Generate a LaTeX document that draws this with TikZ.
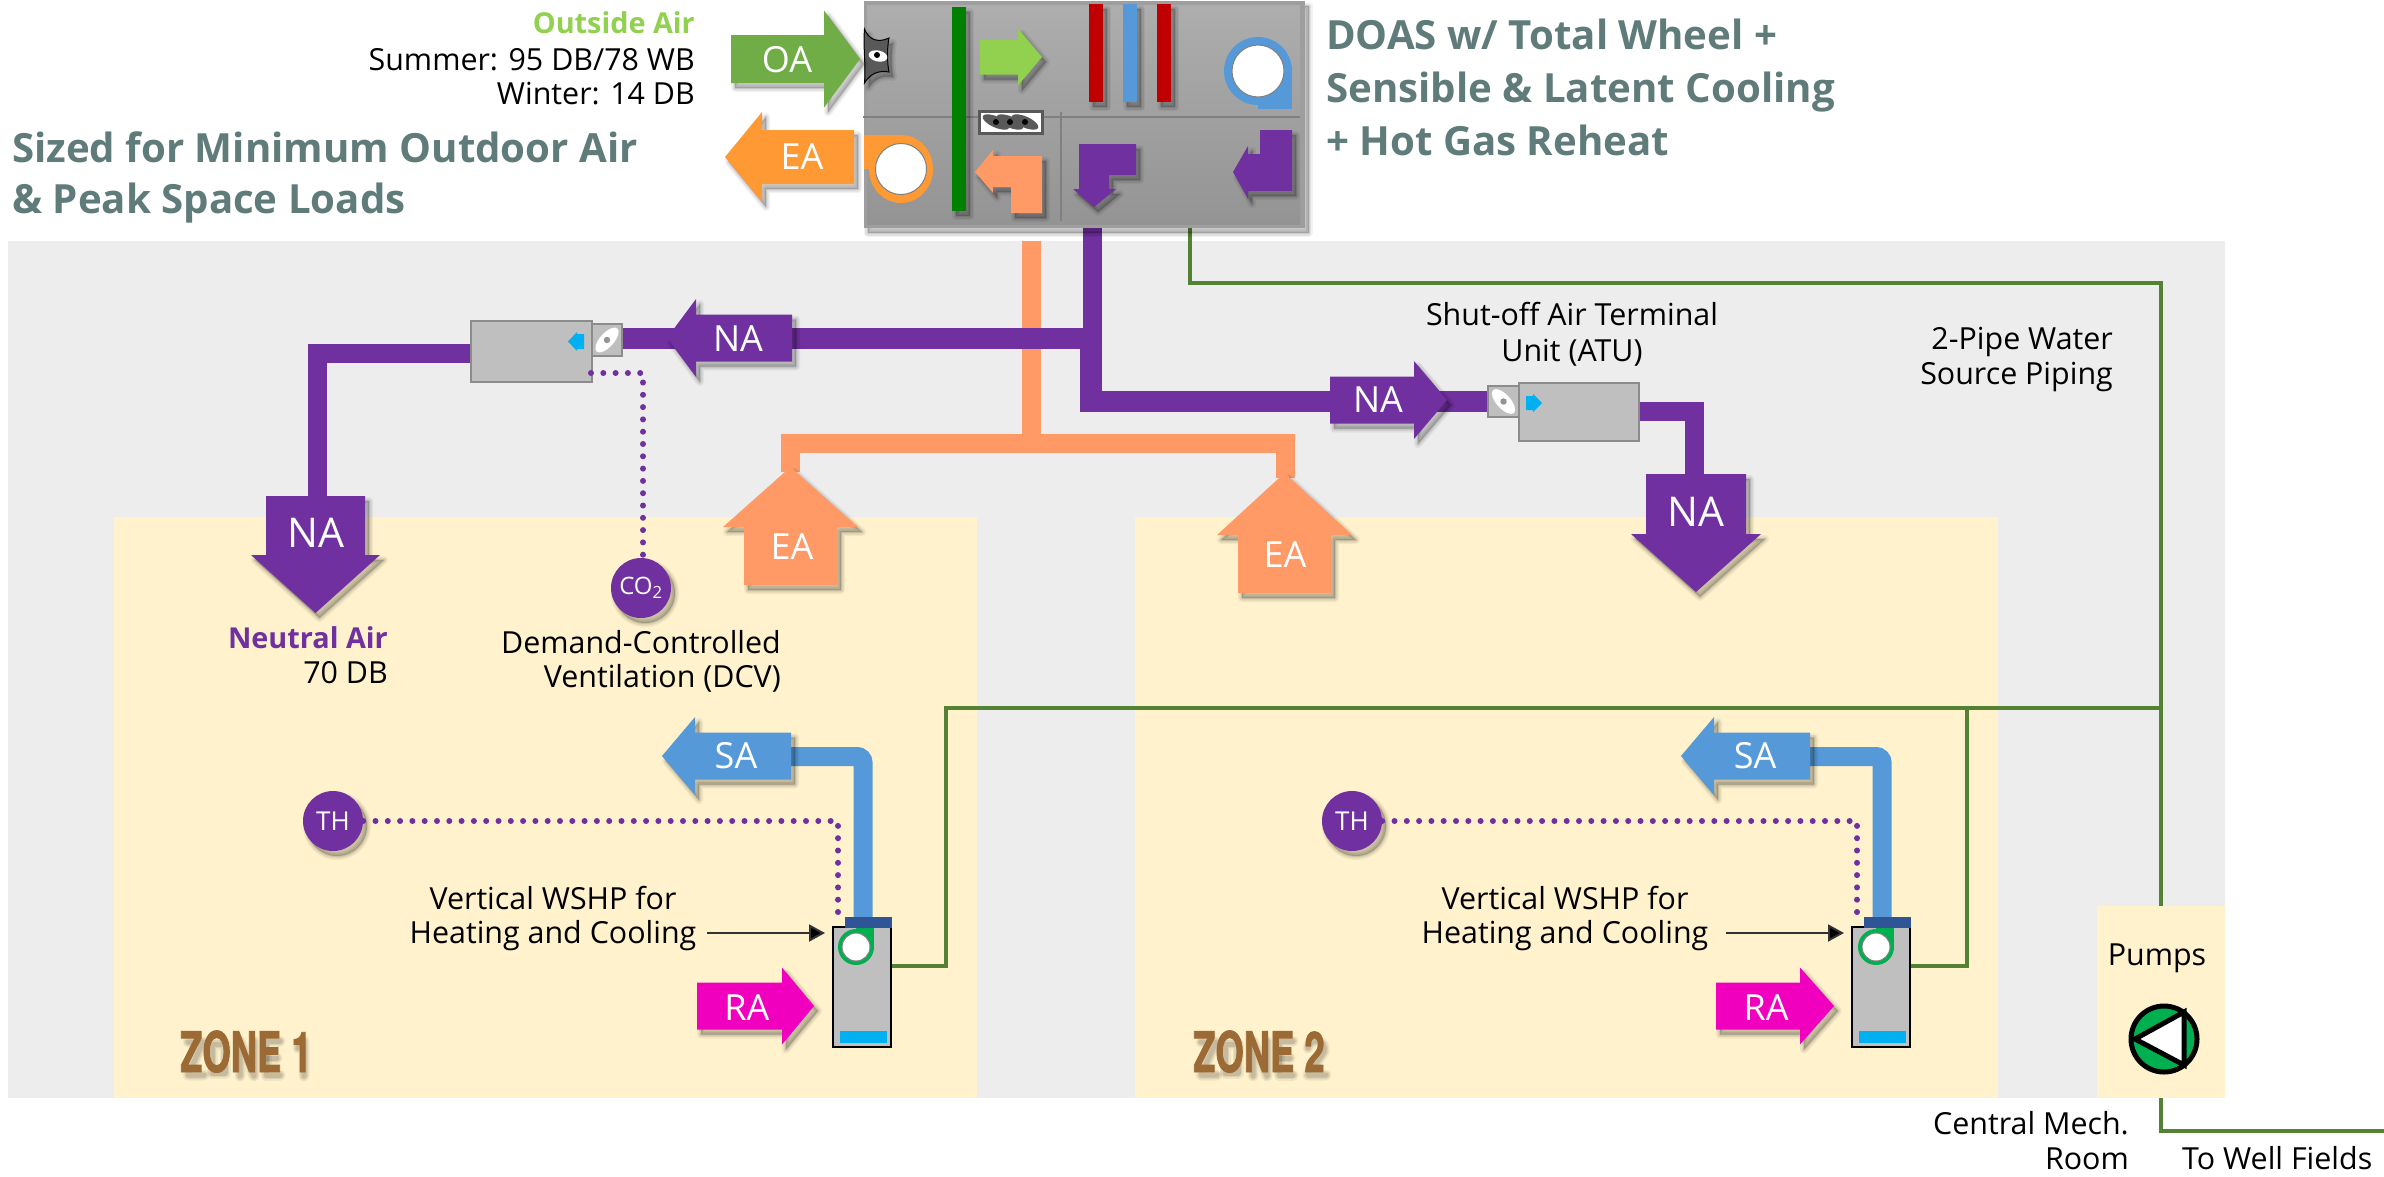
\documentclass[tikz,border=0pt]{standalone}
\usepackage{fontspec}
\usetikzlibrary{arrows.meta}
\setmainfont{Open Sans}
\newfontfamily\zonefont[FakeStretch=0.65,BoldFeatures={FakeBold=1.4}]{TeX Gyre Heros}
\definecolor{bggray}{HTML}{EDEDED}
\definecolor{zonefill}{HTML}{FFF2CC}
\definecolor{naP}{HTML}{7030A0}
\definecolor{eaS}{HTML}{FF9966}
\definecolor{eaO}{HTML}{FF9933}
\definecolor{oaG}{HTML}{70AD47}
\definecolor{oaL}{HTML}{92D050}
\definecolor{saB}{HTML}{5599D9}
\definecolor{raM}{HTML}{F000BE}
\definecolor{pipeG}{HTML}{548235}
\definecolor{headC}{HTML}{5F7B7A}
\definecolor{zoneC}{HTML}{9C6A35}
\definecolor{cyanB}{HTML}{00B0F0}
\definecolor{fanG}{HTML}{00B050}
\definecolor{coilR}{HTML}{C00000}
\definecolor{unitG}{HTML}{BFBFBF}
\definecolor{unitE}{HTML}{8C8C8C}
\definecolor{darkB}{HTML}{2F5597}
\tikzset{
  softshadow/.style={
    preaction={draw=black,fill=black,opacity=.05,line width=8pt,line join=round,transform canvas={shift={(4pt,-5pt)}}},
    preaction={draw=black,fill=black,opacity=.07,line width=5pt,line join=round,transform canvas={shift={(4pt,-5pt)}}},
    preaction={draw=black,fill=black,opacity=.09,line width=2pt,line join=round,transform canvas={shift={(4pt,-5pt)}}}},
  body/.style={font=\fontsize{30.4}{34}\selectfont,inner sep=0pt,text=black},
  bodybold/.style={font=\fontsize{28.8}{34}\selectfont\bfseries,inner sep=0pt},
  head/.style={font=\fontsize{40.2}{44}\selectfont\bfseries,inner sep=0pt,text=headC,anchor=base west},
  lab/.style={font=\fontsize{36}{40}\selectfont,inner sep=0pt,text=white},
  biglab/.style={font=\fontsize{41}{44}\selectfont,inner sep=0pt,text=white},
  sensor/.style={circle,fill=naP,minimum size=60pt,inner sep=0pt,text=white,softshadow},
  duct/.style={line width=19pt,line cap=butt,line join=miter},
  pipe/.style={draw=pipeG,line width=4pt,line join=miter},
  sensordots/.style={draw=naP,line width=6pt,line cap=round,dash pattern=on 0pt off 12.3pt},
  atubox/.style={draw=unitE,fill=unitG,line width=2pt,inner sep=0pt},
  wshpbox/.style={draw=black,fill=unitG,line width=2pt,inner sep=0pt,minimum width=58pt,minimum height=120pt},
  zonelab/.style={inner sep=0pt,anchor=base west,text=zoneC,font=\fontsize{56}{60}\selectfont\zonefont\bfseries},
  fanwhite/.style={fill=white,draw=gray,line width=1pt},
  thinarrow/.style={draw=black!80,line width=2pt,-{Triangle[length=16pt,width=17pt,fill=black]}}
}
% horizontal block arrow: colour, body end x, head base x, tip x, y centre, body half, head half
\newcommand{\blockH}[7]{\fill[#1,softshadow] (#2,{#5-#6}) -- (#3,{#5-#6}) -- (#3,{#5-#7}) -- (#4,#5) -- (#3,{#5+#7}) -- (#3,{#5+#6}) -- (#2,{#5+#6}) -- cycle;}
% vertical block arrow: colour, body end y, head base y, tip y, x centre, body half, head half
\newcommand{\blockV}[7]{\fill[#1,softshadow] ({#5-#6},#2) -- ({#5-#6},#3) -- ({#5-#7},#3) -- (#5,#4) -- ({#5+#7},#3) -- ({#5+#6},#3) -- ({#5+#6},#2) -- cycle;}
% damper ellipse in a terminal unit: x, y, angle
\newcommand{\damperleaf}[3]{\fill[white] (#1,#2) circle [x radius=15.5pt,y radius=7pt,rotate=#3];\fill[gray!85] (#1,#2) circle [radius=3.2pt];}
\newcommand{\wheelleaf}[1]{\fill[black!65] (#1,122) circle [x radius=14.5pt,y radius=5.5pt,rotate=-24];\fill[black] (#1,122) circle [radius=3pt];}
% soft shadow of the word ZONE and a digit, traced as strokes: x of word, digit path
\newcommand{\zoneshadow}[2]{%
  \foreach \wd/\op in {11/.06,8/.08,5/.1}{
    \begin{scope}[shift={({#1+5},1078)},draw=black,opacity=\op,line width=\wd pt,line join=round,line cap=round]
      \draw (3,-36) -- (18,-36) -- (3,-3) -- (19,-3);
      \draw (27,-34) rectangle (40,-5);
      \draw (55,-2) -- (55,-37) -- (69,-2) -- (69,-37);
      \draw (95,-3) -- (81,-3) -- (81,-37) -- (95,-37);
      \draw (81,-20) -- (92,-20);
      \draw #2;
    \end{scope}}}
\begin{document}
\begin{tikzpicture}[x=1pt,y=-1pt]
\useasboundingbox (0,0) rectangle (2384,1176);
\fill[white] (0,0) rectangle (2384,1176);
% backgrounds
\fill[bggray] (8,241) rectangle (2225,1098);
\fill[zonefill] (114,517) rectangle (977,1098);
\fill[zonefill] (1135,517) rectangle (1998,1098);
% named points
\coordinate (eaTop) at (1031.5,241);
\coordinate (eaJoin) at (1031.5,443.5);
\coordinate (eaL) at (790,443.5);
\coordinate (eaR) at (1285,443.5);
\coordinate (eaLd) at (790,472);
\coordinate (eaRd) at (1285,478);
\coordinate (naTop) at (1092.5,228);
\coordinate (naMid) at (1102,338.5);
\coordinate (naTrunk) at (1091,338.5);
\coordinate (naLow) at (1091,401.5);
\coordinate (naArrowL) at (780,338.5);
\coordinate (naArrowR) at (1340,401.5);
\coordinate (naCornerL) at (317,353.5);
\coordinate (naDownL) at (317,500);
\coordinate (naCornerR) at (1694,411.5);
\coordinate (naDownR) at (1694,478);
\coordinate (pipeAhu) at (1190,227);
\coordinate (pipeC1) at (1190,283);
\coordinate (pipeC2) at (2161,283);
\coordinate (pipePumpT) at (2161,910);
\coordinate (pipePumpB) at (2161,1095);
\coordinate (pipeC3) at (2161,1131);
\coordinate (pipeEnd) at (2384,1131);
\coordinate (pipeHL) at (946,708);
\coordinate (pipeHR) at (2161,708);
\coordinate (pipeV1) at (946,966);
\coordinate (pipeV2) at (1967,966);
\coordinate (pipeH2) at (1967,708);
% pipes
\draw[pipe] (pipeAhu) -- (pipeC1) -- (pipeC2) -- (pipePumpT);
\draw[pipe] (pipePumpB) -- (pipeC3) -- (pipeEnd);
% pump box
\fill[zonefill] (2097,906) rectangle (2225,1098);
% exhaust ducts
\draw[duct,eaS] (eaTop) -- (eaJoin);
\draw[duct,eaS] (eaLd) -- (eaL) -- (eaR) -- (eaRd);
% neutral air ducts
\draw[duct,naP] (naTop) -- (1092.5,349);
\draw[duct,naP,line width=21pt] (naMid) -- (naArrowL);
\draw[duct,naP,line width=22pt] (naTrunk) -- (naLow);
\draw[duct,naP,line width=21pt] (1080,401.5) -- (naArrowR);
% terminal units
\node[atubox,minimum width=30pt,minimum height=32pt] (dmpL) at (607,340) {};
\node[atubox,minimum width=121pt,minimum height=61pt] (atuL) at (531.5,351.5) {};
\node[atubox,minimum width=31pt,minimum height=31pt] (dmpR) at (1503.5,401.5) {};
\node[atubox,minimum width=120pt,minimum height=58pt] (atuR) at (1579,412) {};
\draw[duct,naP,line width=21pt] (naArrowL) -- (dmpL.east |- naArrowL);
\draw[duct,naP,line width=21pt] (naArrowR) -- (dmpR.west |- naArrowR);
\draw[duct,naP] (atuL.west |- naCornerL) -- (naCornerL) -- (naDownL);
\draw[duct,naP] (atuR.east |- naCornerR) -- (naCornerR) -- (naDownR);
\damperleaf{607}{340}{48}
\damperleaf{1503.5}{401.5}{-48}
\fill[cyanB] (584,334) -- (577,334) -- (577,332) -- (568,341.5) -- (577,351) -- (577,349) -- (584,349) -- cycle;
\fill[cyanB] (1526,396) -- (1533,396) -- (1533,394) -- (1542,403) -- (1533,412) -- (1533,410) -- (1526,410) -- cycle;
% AHU
\node[draw=none,fill=black!38,minimum width=441pt,minimum height=227pt,inner sep=0pt,softshadow] (ahu) at (1084,114.5) {};
\fill[top color=black!32,bottom color=black!42] (867,5) rectangle (1300,224);
\draw[black!50,line width=2.5pt] (863,117) -- (1300,117);
\draw[black!50,line width=2pt] (1061,112) -- (1061,221);
\fill[green!50!black,softshadow] (952,7) rectangle (966,211);
\fill[coilR,softshadow] (1089,4) rectangle (1103,102);
\fill[saB,softshadow] (1123,4) rectangle (1137,102);
\fill[coilR,softshadow] (1157,4) rectangle (1171,102);
% OA damper
\draw[black,fill=black!65,line width=1pt,softshadow] (864.5,29) .. controls (868,38) and (876,44) .. (889,38) .. controls (887,48) and (887,62) .. (889,72) .. controls (878,70) and (870,74) .. (864.5,83) .. controls (866,65) and (863,47) .. cycle;
\fill[white] (878,56) circle [x radius=9.5pt,y radius=5.5pt,rotate=-12];
\fill[black] (877,55) circle [radius=3pt];
% wheel icon
\node[draw=black!65,fill=white,line width=3pt,minimum width=63pt,minimum height=22pt,inner sep=0pt] (wheel) at (1011,122.5) {};
\wheelleaf{996}\wheelleaf{1010}\wheelleaf{1025}
% AHU inner arrows
\blockH{oaL}{980}{1018}{1042}{57}{17.5}{28.5}
\fill[eaS,softshadow] (1042,156) -- (1042,213) -- (1011,213) -- (1011,187) -- (993,187) -- (993,193) -- (975,172) -- (993,150) -- (993,156) -- cycle;
\fill[naP,softshadow] (1079,144) -- (1136,144) -- (1136,175) -- (1109,175) -- (1109,189) -- (1116,189) -- (1094,207) -- (1073,189) -- (1079,189) -- cycle;
\fill[naP,softshadow] (1260,130) -- (1292,130) -- (1292,191) -- (1248,191) -- (1248,199) -- (1233,172) -- (1248,146) -- (1248,154) -- (1260,154) -- cycle;
% AHU fans
\fill[saB] (1258,71) circle [x radius=34pt,y radius=34pt];
\fill[saB] (1258,71) rectangle (1292,109);
\draw[fanwhite] (1258,71) circle [radius=26pt];
\fill[eaO] (901,169) circle [x radius=32pt,y radius=34pt];
\fill[eaO] (864,135) rectangle (901,169);
\draw[fanwhite] (901,169) circle [radius=25.5pt];
% big block arrows
\blockH{oaG}{731}{824}{860}{59}{24}{48.5}
\blockH{eaO}{854}{762}{725}{157}{27}{45}
\blockH{naP}{792}{696}{667}{338}{23.5}{39}
\blockH{naP}{1330}{1414}{1447}{400}{23.5}{39}
\blockV{naP}{496}{555}{613}{315.5}{49.5}{64.5}
\blockV{naP}{474}{534}{592}{1696}{50}{65}
\blockV{eaS}{585}{527}{467}{790.5}{46.5}{67.5}
\blockV{eaS}{593}{535}{473}{1284.5}{46.5}{67.5}
% zone equipment
\node[wshpbox] (wshpA) at (862,987) {};
\node[wshpbox] (wshpB) at (1881,987) {};
\draw[pipe] (wshpA.east |- pipeV1) -- (pipeV1) -- (pipeHL) -- (pipeHR);
\draw[pipe] (wshpB.east |- pipeV2) -- (pipeV2) -- (pipeH2);
\draw[sensordots] (dmpL.south west |- 0,373) -- (643,373) -- (643,555);
\node[sensor,font=\fontsize{24}{26}\selectfont] (co) at (641,588) {CO\textsubscript{2}};
\node[sensor,font=\fontsize{26}{28}\selectfont] (thA) at (333,821) {TH};
\node[sensor,font=\fontsize{26}{28}\selectfont] (thB) at (1352,821) {TH};
\draw[sensordots] (thA.east) -- (838,821) -- (838,920);
\draw[sensordots] (thB.east) -- (1857,821) -- (1857,920);
\draw[duct,saB,rounded corners=6pt] (785,756.5) -- (863,756.5) -- (863,918);
\draw[duct,saB,rounded corners=6pt] (1804,756.5) -- (1882,756.5) -- (1882,918);
\fill[darkB] (845,917) rectangle (892,928);
\fill[darkB] (1864,917) rectangle (1911,928);
\foreach \fx in {856,1876}{
  \fill[fanG] (\fx,947) circle [radius=18pt];
  \fill[fanG] (\fx,928) rectangle ({\fx+18},947);
  \draw[fanwhite] (\fx,947) circle [radius=14pt];
}
\fill[cyanB] (840,1031) rectangle (887,1043);
\fill[cyanB] (1859,1031) rectangle (1906,1043);
\blockH{saB}{791}{695}{662}{756}{23.5}{39}
\blockH{saB}{1810}{1714}{1681}{756}{23.5}{39}
\blockH{raM}{697}{782}{814}{1006}{23.5}{38.5}
\blockH{raM}{1716}{1800}{1834}{1006}{23.5}{38.5}
% pump
\node[circle,draw=black,fill=fanG,line width=5pt,minimum size=66pt,inner sep=0pt] (pump) at (2164,1039) {};
\draw[black,fill=white,line width=5pt,line join=miter] (2135,1039) -- (2184,1012) -- (2184,1065) -- cycle;
% arrow labels
\node[lab] (lOA) at (787,60) {OA};
\node[lab] (lEA) at (802,157) {EA};
\node[lab] (lNAa) at (738,339) {NA};
\node[lab] (lNAb) at (1378,400) {NA};
\node[biglab] (lNAc) at (316,533) {NA};
\node[biglab] (lNAd) at (1696,512) {NA};
\node[lab] (lEAa) at (792,547) {EA};
\node[lab] (lEAb) at (1285,555) {EA};
\node[lab] (lSAa) at (736,756) {SA};
\node[lab] (lSAb) at (1755,756) {SA};
\node[lab] (lRAa) at (747,1008) {RA};
\node[lab] (lRAb) at (1766,1008) {RA};
% captions
\node[bodybold,text=oaL,anchor=base east] (tOut) at (695,33) {Outside Air};
\node[body,anchor=base east] (tSum) at (695,70) {Summer: 95 DB/78 WB};
\node[body,anchor=base east] (tWin) at (695,104) {Winter: 14 DB};
\node[head] (tH1) at (1326,49) {DOAS w/ Total Wheel +};
\node[head] (tH2) at (1326,102) {Sensible \& Latent Cooling};
\node[head] (tH3) at (1326,155) {+ Hot Gas Reheat};
\node[head] (tS1) at (12,162) {Sized for Minimum Outdoor Air};
\node[head] (tS2) at (12,213) {\& Peak Space Loads};
\node[body,anchor=base] (tAtu1) at (1572,325) {Shut-off Air Terminal};
\node[body,anchor=base] (tAtu2) at (1572,361) {Unit (ATU)};
\node[body,anchor=base east] (tPipe1) at (2113,349) {2-Pipe Water};
\node[body,anchor=base east] (tPipe2) at (2113,384) {Source Piping};
\node[bodybold,text=naP,anchor=base east] (tNeu) at (388,648) {Neutral Air};
\node[body,anchor=base east] (tNeu2) at (388,683) {70 DB};
\node[body,anchor=base east] (tDcv1) at (781,653) {Demand-Controlled};
\node[body,anchor=base east] (tDcv2) at (781,687) {Ventilation (DCV)};
\node[body,anchor=base] (tWa1) at (553,909) {Vertical WSHP for};
\node[body,anchor=base] (tWa2) at (553,943) {Heating and Cooling};
\node[body,anchor=base] (tWb1) at (1565,909) {Vertical WSHP for};
\node[body,anchor=base] (tWb2) at (1565,943) {Heating and Cooling};
\coordinate (ptrA) at (707,933);
\coordinate (ptrB) at (1726,933);
\draw[thinarrow] (ptrA) -- (825,933);
\draw[thinarrow] (ptrB) -- (1844,933);
\node[body,anchor=base] (tPump) at (2157,965) {Pumps};
\node[body,anchor=base east] (tMech1) at (2129,1134) {Central Mech.};
\node[body,anchor=base east] (tMech2) at (2129,1169) {Room};
\node[body,anchor=base west] (tWell) at (2182,1169) {To Well Fields};
% zone names
\zoneshadow{180}{(113,-30) -- (119,-37) -- (119,-2)}
\zoneshadow{1193}{(110,-30) .. controls (112,-40) and (128,-40) .. (126,-26) -- (110,-3) -- (128,-3)}
\node[zonelab] (zA) at (180,1072) {ZONE 1};
\node[zonelab] (zB) at (1193,1072) {ZONE 2};
\end{tikzpicture}
\end{document}
